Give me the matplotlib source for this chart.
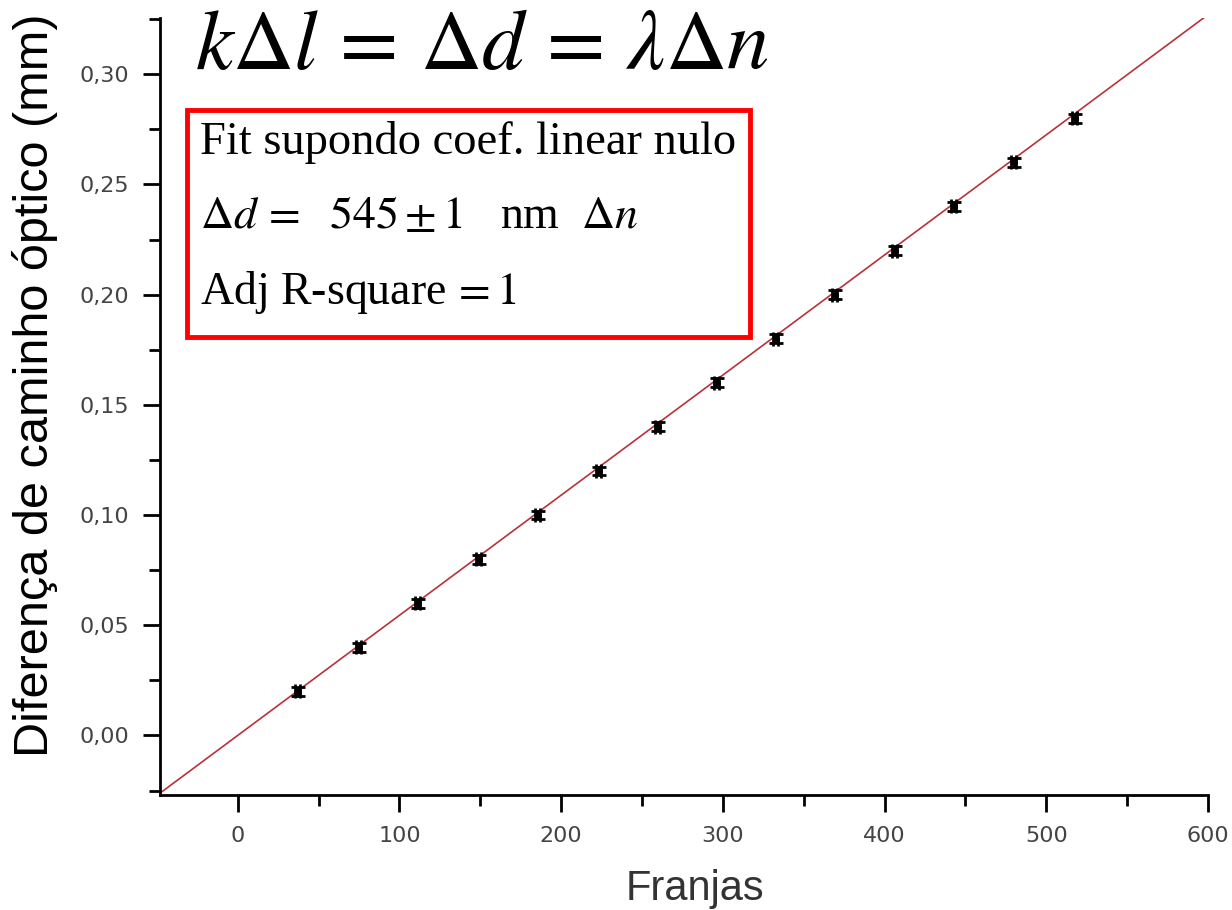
import matplotlib.pyplot as plt
from matplotlib.patches import Rectangle
from matplotlib.ticker import MultipleLocator, FuncFormatter

# Fringes counted vs. optical path difference (mm)
franjas = [37.1, 74.8, 111.3, 149.0, 185.5, 223.3, 259.7, 296.2, 332.7, 369.2, 406.3, 442.8, 479.9, 517.6]
diferenca = [0.02, 0.04, 0.06, 0.08, 0.10, 0.12, 0.14, 0.16, 0.18, 0.20, 0.22, 0.24, 0.26, 0.28]
erro_y = [0.002] * len(diferenca)
erro_x = [1.5] * len(franjas)

# fit through the origin: lambda = 545 nm per fringe
lambda_nm = 545
fit_x = [-50, 600]
fit_y = [lambda_nm * 1e-6 * v for v in fit_x]

plt.rcParams['mathtext.fontset'] = 'stix'

fig = plt.figure(figsize=(12.32, 9.10), dpi=100)
ax = fig.add_axes([0.1299, 0.1264, 0.8506, 0.8538])

ax.plot(fit_x, fit_y, color='#b8323a', lw=1.2, zorder=2)
ax.errorbar(franjas, diferenca, yerr=erro_y, xerr=erro_x, fmt='o', ms=4,
            color='black', ecolor='black', elinewidth=1.8, capsize=5,
            capthick=2, zorder=3)

ax.set_xlim(-48, 600)
ax.set_ylim(-0.027, 0.3255)

for s in ['top', 'right']:
    ax.spines[s].set_visible(False)
for s in ['left', 'bottom']:
    ax.spines[s].set_linewidth(2)

ax.xaxis.set_major_locator(MultipleLocator(100))
ax.xaxis.set_minor_locator(MultipleLocator(50))
ax.yaxis.set_major_locator(MultipleLocator(0.05))
ax.yaxis.set_minor_locator(MultipleLocator(0.025))
ax.yaxis.set_major_formatter(FuncFormatter(lambda v, p: f'{v:.2f}'.replace('.', ',').replace('-0,00', '0,00')))
ax.tick_params(which='major', length=12, width=2, labelsize=16, labelcolor='#444444', pad=10)
ax.tick_params(which='minor', length=8, width=2)

ax.set_xlabel('Franjas', fontsize=30, color='#333333', family='Liberation Sans')
ax.xaxis.set_label_coords(0.51, -0.095)
ax.set_ylabel('Diferença de caminho óptico (mm)', fontsize=35, color='black',
              family='Liberation Sans')
ax.yaxis.set_label_coords(-0.097, 0.527)
for lab in ax.get_xticklabels() + ax.get_yticklabels():
    lab.set_family('DejaVu Sans')

# relation between mirror displacement, path difference and fringes
fig.text(0.158, 0.95, r'$k\Delta l\,=\,\Delta d\,=\,\lambda\Delta n$', fontsize=61,
         va='center', ha='left')

# fit results box
fig.patches.append(Rectangle((187 / 1232, 1 - 337 / 910), 563 / 1232, 227 / 910,
                             transform=fig.transFigure, fill=False,
                             edgecolor='#ff0000', lw=3.5, zorder=5))
fig.text(200 / 1232, 1 - 143 / 910, 'Fit supondo coef. linear nulo', fontsize=33.5,
         family='Liberation Serif', va='center')
fig.text(200 / 1232, 1 - 217 / 910, r'$\Delta d \,=$  $545 \pm 1$   nm  $\Delta n$',
         fontsize=33, family='Liberation Serif', va='center')
fig.text(200 / 1232, 1 - 292 / 910, r'Adj R-square$\,=1$', fontsize=33,
         family='Liberation Serif', va='center')

fig.savefig('out.png', dpi=100)
